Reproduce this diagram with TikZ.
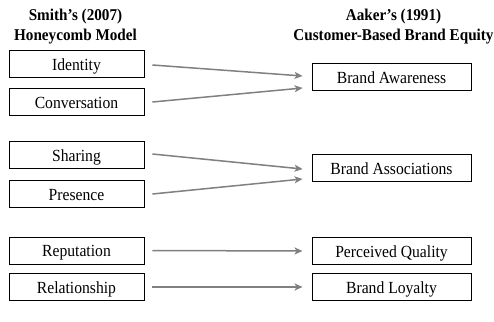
\documentclass[tikz,border=0pt]{standalone}
\usepackage{fontspec}
\setmainfont{Liberation Serif}
\newcommand\sqz[1]{\scalebox{0.92}[1]{#1}}
\usetikzlibrary{calc,arrows.meta}
\begin{document}
\begin{tikzpicture}[x=1pt,y=-1pt,
  box/.style={draw=black,line width=0.9pt,minimum height=27pt,inner sep=0pt,text height=12.5pt,text depth=0pt,font=\fontsize{17}{20}\selectfont},
  lbox/.style={box,minimum width=135pt},
  rbox/.style={box,minimum width=159pt},
  head/.style={font=\fontsize{16.5}{20}\bfseries\selectfont,align=center,inner sep=0pt},
  link/.style={draw={rgb,255:red,128;green,128;blue,128},line width=1.5pt,-{Stealth[length=8pt,width=7pt,inset=2pt]}}]
\useasboundingbox (0,0) rectangle (494,321);
\node[head] (h1) at (75.5,27) {\sqz{Smith’s (2007)}\\\sqz{Honeycomb Model}};
\node[head] (h2) at (393.5,27) {\sqz{Aaker’s (1991)}\\\sqz{Customer-Based Brand Equity}};
\node[lbox] (id) at (76.5,64) {\sqz{Identity}};
\node[lbox] (conv) at (76.5,102) {\sqz{Conversation}};
\node[lbox] (shar) at (76.5,155) {\sqz{Sharing}};
\node[lbox] (pres) at (76.5,194) {\sqz{Presence}};
\node[lbox] (rep) at (76.5,250.5) {\sqz{Reputation}};
\node[lbox] (rel) at (76.5,287) {\sqz{Relationship}};
\node[rbox] (aw) at (391.5,77) {\sqz{Brand Awareness}};
\node[rbox] (as) at (391.5,168) {\sqz{Brand Associations}};
\node[rbox] (pq) at (391.5,251) {\sqz{Perceived Quality}};
\node[rbox] (bl) at (391.5,287) {\sqz{Brand Loyalty}};
\draw[link] ($(id.east)+(8,1)$) -- ($(aw.west)+(-9,-1)$);
\draw[link] ($(conv.east)+(8,0)$) -- ($(aw.west)+(-9,11)$);
\draw[link] ($(shar.east)+(8,-1)$) -- ($(as.west)+(-9,1)$);
\draw[link] ($(pres.east)+(8,0)$) -- ($(as.west)+(-9,11)$);
\draw[link] ($(rep.east)+(8,0)$) -- ($(pq.west)+(-9,0)$);
\draw[link] ($(rel.east)+(8,0)$) -- ($(bl.west)+(-9,0)$);
\end{tikzpicture}
\end{document}
